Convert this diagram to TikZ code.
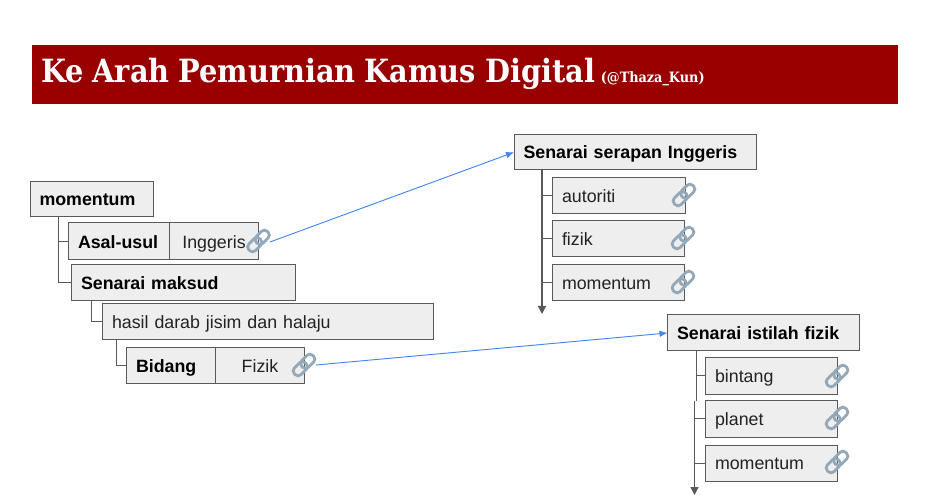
\documentclass[tikz,border=0pt]{standalone}
\usepackage{fontspec}
\setmainfont{Liberation Sans}
\newfontfamily\ttlfont{DejaVu Serif Condensed}
\usetikzlibrary{arrows.meta}
\definecolor{bandred}{HTML}{990000}
\definecolor{boxfill}{HTML}{EEEEEE}
\definecolor{boxline}{HTML}{595959}
\definecolor{linkblue}{HTML}{4285F4}
\definecolor{chain}{HTML}{93A8B8}
\definecolor{ink}{HTML}{222222}
\tikzset{
  nbox/.style={draw=boxline,fill=boxfill,line width=0.75pt,anchor=north west,outer sep=0pt,
    inner xsep=7pt,inner ysep=0pt,align=left,text height=12.8pt,text depth=3pt,
    font=\fontsize{13.35pt}{16pt}\selectfont,text=ink},
  hd/.style={font=\fontsize{13.35pt}{16pt}\selectfont\bfseries,text=black},
  ctr/.style={align=center},
  tree/.style={draw=boxline,line width=0.75pt},
  trunk/.style={draw=boxline,line width=0.9pt,-{Triangle[length=6pt,width=6pt]}},
  xref/.style={draw=linkblue,line width=0.7pt,-{Latex[length=6pt,width=5pt]}},
  chainlink/.style={draw=chain,line width=2.1pt,rounded corners=3pt}
}
\newcommand{\bx}[6][]{%
  \pgfmathsetmacro{\bw}{(#4-#2)*0.75}%
  \pgfmathsetmacro{\bh}{(#5-#3)*0.75}%
  \pgfmathsetmacro{\tw}{(#4-#2-19)*0.75}%
  \node[nbox,minimum width=\bw pt,minimum height=\bh pt,text width=\tw pt,#1] (#6) at (#2,#3)}
\newcommand{\lnk}[2]{%
  \begin{scope}[shift={(#1,#2)},rotate=45]
    \draw[chainlink] (-13,-4.7) rectangle (2.5,4.7);
    \draw[chainlink] (-2.5,-4.7) rectangle (13,4.7);
  \end{scope}}
\begin{document}
\begin{tikzpicture}[x=0.75pt,y=-0.75pt]
\useasboundingbox (0,0) rectangle (930,498);
\node[fill=bandred,anchor=north west,minimum width=649.5pt,minimum height=44.25pt,outer sep=0pt,
  inner xsep=6.5pt,inner ysep=0pt,text width=636pt,align=left,text=white,text height=19pt,text depth=7pt] (band) at (32,45)
  {{\ttlfont\bfseries\fontsize{24pt}{30pt}\selectfont\spaceskip=6.75pt Ke Arah Pemurnian Kamus Digital} \hspace{1pt}{\ttlfont\bfseries\fontsize{10.7pt}{12pt}\selectfont (@Thaza\_Kun)}};

\coordinate (t1) at (58.5,241.5);
\coordinate (t3) at (91,322);
\coordinate (t4) at (116.5,365);
\coordinate (s0) at (542,170);
\coordinate (send) at (542,314);
\coordinate (i0) at (696,351);
\coordinate (iend) at (694.5,495);
\coordinate (l1) at (270,242);
\coordinate (l2) at (316,365);

\bx{30}{181.5}{153.5}{217}{rootbox}[hd] {momentum};
\bx{68.5}{223}{169.5}{260}{asal}[hd] {Asal-usul};
\bx{169.5}{223}{258.5}{260}{ingg}[ctr] {Inggeris};
\bx{71.5}{264.5}{295.5}{300.5}{maksud}[hd] {Senarai maksud};
\bx{102.5}{303.5}{433.5}{340}{hasil} {hasil darab jisim dan halaju};
\bx{126.5}{347.5}{215.5}{383.5}{bidang}[hd] {Bidang};
\bx{215.5}{347.5}{304.5}{383.5}{fizikv}[ctr] {Fizik};
\bx{514}{134.5}{756.5}{170}{serapan}[hd] {Senarai serapan Inggeris};
\bx{552.5}{177.5}{685}{213.5}{auto} {autoriti};
\bx{552.5}{220.5}{684}{256.5}{fizika} {fizik};
\bx{552.5}{264.5}{684}{300.5}{moma} {momentum};
\bx{667.5}{315}{859.5}{351}{istilah}[hd] {Senarai istilah fizik};
\bx{705.5}{357.5}{837.5}{394}{bint} {bintang};
\bx{705.5}{400.5}{837.5}{437}{plan} {planet};
\bx{705.5}{445}{837.5}{481}{momb} {momentum};

\draw[tree] (t1 |- rootbox.south) |- (asal.west);
\draw[tree] (t1 |- asal.west) |- (maksud.west);
\draw[tree] (t3 |- maksud.south) |- (hasil.west);
\draw[tree] (t4 |- hasil.south) |- (bidang.west);
\draw[trunk] (s0) -- (send);
\draw[tree] (s0 |- auto.west) -- (auto.west);
\draw[tree] (s0 |- fizika.west) -- (fizika.west);
\draw[tree] (s0 |- moma.west) -- (moma.west);
\draw[tree] (i0) |- (bint.west);
\draw[tree] (i0 |- bint.west) -- (i0 |- plan.north);
\draw[trunk] (iend |- plan.north) -- (iend);
\draw[tree] (iend |- plan.west) -- (plan.west);
\draw[tree] (iend |- momb.west) -- (momb.west);

\draw[xref] (l1) -- (serapan.west);
\draw[xref] (l2) -- (istilah.west);

\lnk{258.5}{241}
\lnk{304}{365}
\lnk{684}{195}
\lnk{683}{238}
\lnk{683}{282}
\lnk{837}{376}
\lnk{837}{418}
\lnk{837}{462}
\end{tikzpicture}
\end{document}
